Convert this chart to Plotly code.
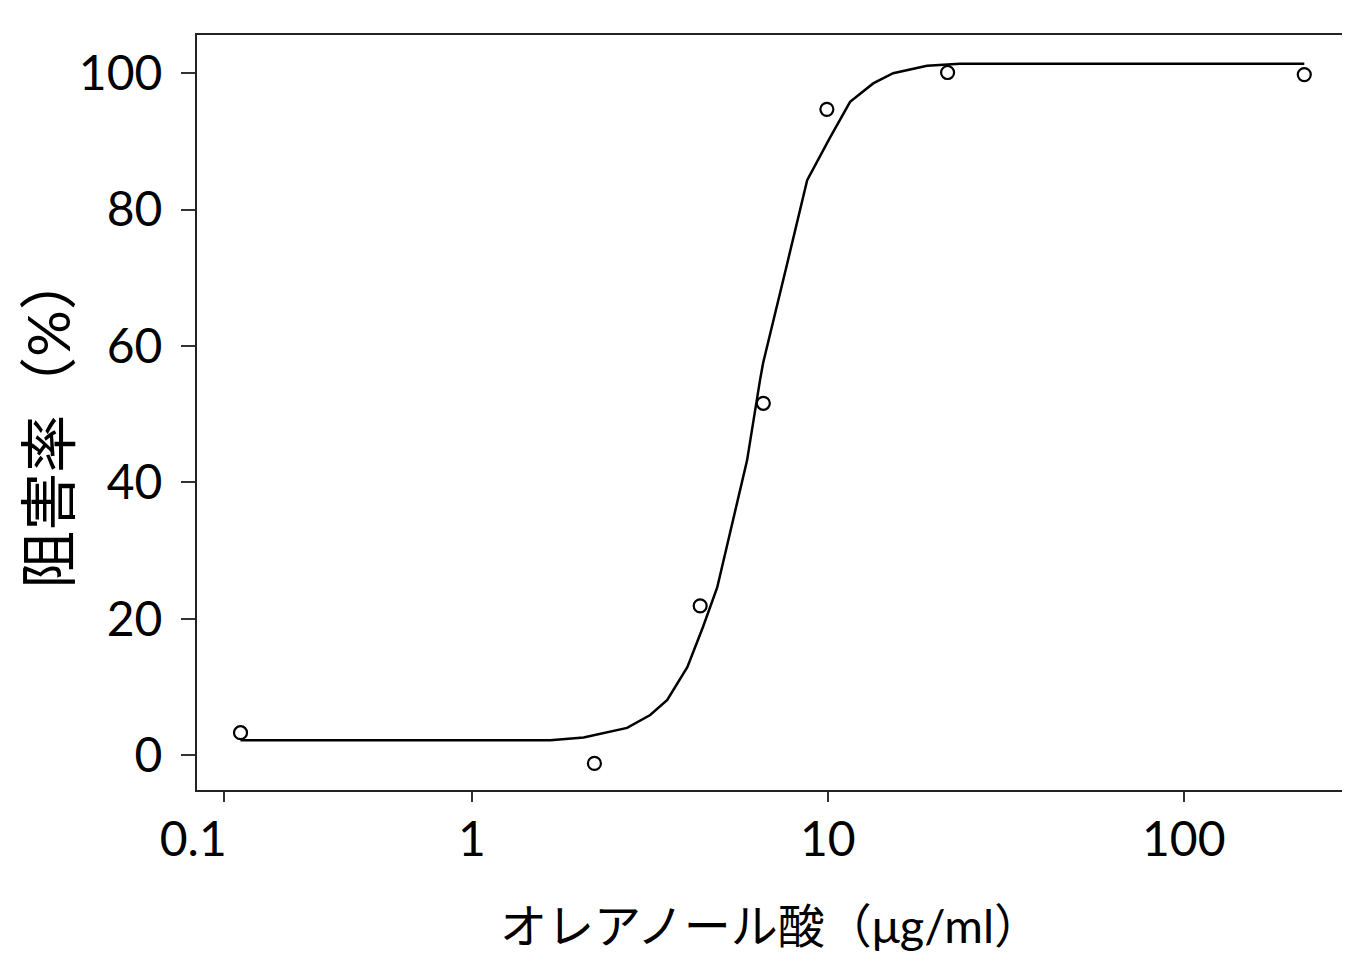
import plotly.graph_objects as go

# measured points (concentration in ug/ml, inhibition %)
conc = [0.224, 2.21, 4.38, 6.59, 9.94, 21.7, 218]
inhibition = [3.3, -1.2, 21.9, 51.6, 94.7, 100.1, 99.8]

# fitted curve
fit_x = [0.224, 1.66, 2.06, 2.73, 3.17, 3.54, 4.03, 4.46, 4.89, 5.42, 5.93,
         6.45, 6.58, 7.69, 8.75, 10.15, 10.83, 11.55, 13.41, 15.26, 19.0,
         23.5, 218]
fit_y = [2.2, 2.2, 2.6, 4.0, 5.9, 8.1, 12.9, 18.8, 24.6, 34.4, 43.2,
         55.0, 57.5, 72.1, 84.3, 90.6, 93.3, 95.8, 98.5, 100.0, 101.1,
         101.4, 101.4]

x_tickvals = [0.2014, 1, 10, 100]
x_ticktext = ['0.1\u2007\u2007\u2009', '1', '10', '100']
y_tickvals = [0, 20, 40, 60, 80, 100]

tick_font = dict(family='Lato, Noto Sans CJK JP', size=48, color='black')
title_font = 'Lato, Noto Sans CJK JP'

fig = go.Figure()
fig.add_trace(go.Scatter(x=fit_x, y=fit_y, mode='lines',
                         line=dict(color='black', width=2.5),
                         showlegend=False))
fig.add_trace(go.Scatter(x=conc, y=inhibition, mode='markers',
                         marker=dict(symbol='circle-open', size=13, color='black',
                                     line=dict(width=2.2)),
                         showlegend=False))

fig.update_layout(width=1350, height=970,
                  paper_bgcolor='white', plot_bgcolor='white',
                  margin=dict(l=189, r=14, t=27, b=188, autoexpand=False))
fig.update_xaxes(type='log', range=[-0.772, 2.450], automargin=False,
                 tickvals=x_tickvals, ticktext=x_ticktext,
                 ticks='outside', ticklen=10, tickwidth=2, tickcolor='#333',
                 ticklabelstandoff=-4, tickfont=tick_font,
                 showline=True, linewidth=2, linecolor='#222', mirror=True,
                 showgrid=False, zeroline=False,
                 title=dict(text='オレアノール酸（μg/ml）', standoff=46,
                            font=dict(family=title_font, size=47, color='black')))
fig.update_yaxes(range=[-5.1, 105.6], tickvals=y_tickvals, automargin=False,
                 ticks='outside', ticklen=14, tickwidth=2, tickcolor='#333',
                 ticklabelstandoff=9, tickfont=tick_font,
                 showline=True, linewidth=2, linecolor='#222', mirror=True,
                 showgrid=False, zeroline=False)

# y axis title as an annotation so it can sit close to the page edge
fig.add_annotation(text='阻害率（%）', textangle=-90,
                   xref='paper', yref='paper', x=-0.131, y=0.49,
                   xanchor='center', yanchor='middle', showarrow=False,
                   font=dict(family=title_font, size=58, color='black'))

fig.write_html('out.html')
